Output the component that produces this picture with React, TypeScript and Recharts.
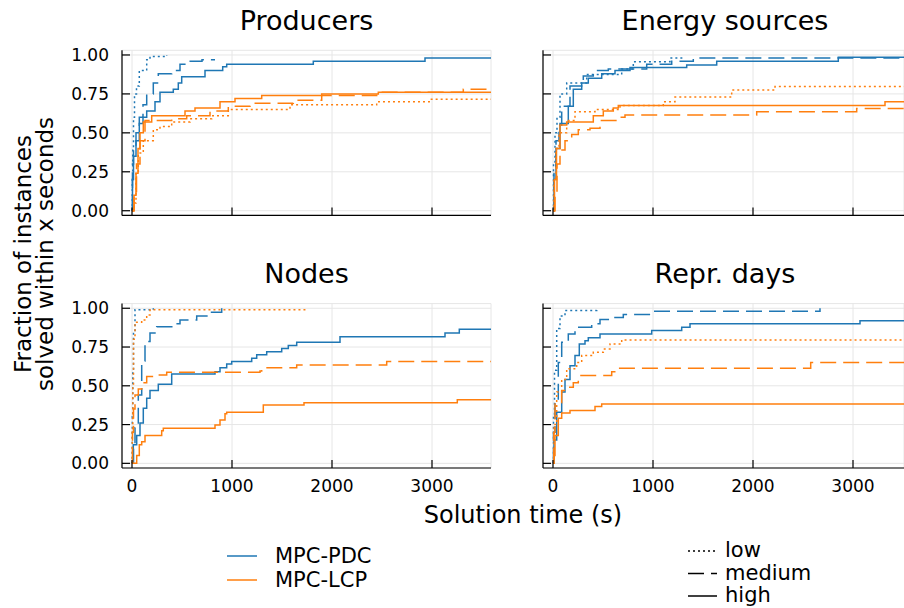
import { LineChart, Line, XAxis, YAxis, CartesianGrid } from "recharts"

type Pt = [number, number]

// panel titles, tick values, legend entries
const panelTitles = ["Producers", "Energy sources", "Nodes", "Repr. days"]
const xTicks = [0, 1000, 2000, 3000]
const yTicks = [0, 0.25, 0.5, 0.75, 1]
const methods = ["MPC-PDC", "MPC-LCP"]
const levels = ["low", "medium", "high"]

// [solution time (s), fraction solved]
const prodPdcLow: Pt[] = [[0, 0], [3, 0.2], [8, 0.4], [15, 0.6], [25, 0.75], [45, 0.8], [73, 0.9], [147, 0.97], [180, 0.99], [347, 1.0]]
const prodPdcMed: Pt[] = [[0, 0], [5, 0.3], [15, 0.4], [40, 0.5], [73, 0.6], [110, 0.68], [147, 0.75], [213, 0.82], [263, 0.88], [397, 0.9], [480, 0.94], [563, 0.96], [700, 0.97], [830, 0.97]]
const prodPdcHigh: Pt[] = [[0, 0], [5, 0.2], [15, 0.35], [40, 0.45], [73, 0.56], [110, 0.6], [147, 0.64], [230, 0.7], [280, 0.76], [413, 0.78], [463, 0.82], [497, 0.86], [730, 0.9], [907, 0.925], [947, 0.94], [1813, 0.96], [2930, 0.98], [3600, 0.98]]
const prodLcpLow: Pt[] = [[0, 0], [20, 0.05], [40, 0.25], [63, 0.37], [113, 0.45], [213, 0.52], [280, 0.54], [397, 0.57], [580, 0.59], [797, 0.61], [963, 0.65], [1580, 0.68], [2447, 0.7], [2980, 0.715], [3600, 0.715]]
const prodLcpMed: Pt[] = [[0, 0], [20, 0.1], [45, 0.3], [80, 0.45], [130, 0.58], [397, 0.59], [547, 0.61], [780, 0.64], [963, 0.67], [1180, 0.69], [1613, 0.71], [1897, 0.74], [2447, 0.76], [3313, 0.78], [3600, 0.78]]
const prodLcpHigh: Pt[] = [[0, 0], [20, 0.1], [40, 0.24], [60, 0.4], [80, 0.5], [113, 0.57], [197, 0.61], [530, 0.64], [630, 0.66], [880, 0.7], [1030, 0.72], [1297, 0.74], [1897, 0.75], [2463, 0.76], [3600, 0.76]]

const enPdcLow: Pt[] = [[0, 0], [5, 0.3], [20, 0.5], [40, 0.6], [70, 0.75], [137, 0.82], [337, 0.875], [687, 0.91], [803, 0.957], [1170, 0.98], [1300, 0.98]]
const enPdcMed: Pt[] = [[0, 0], [10, 0.25], [30, 0.45], [60, 0.55], [87, 0.67], [170, 0.8], [303, 0.865], [403, 0.9], [553, 0.91], [937, 0.94], [1187, 0.96], [1403, 0.98], [3600, 0.98]]
const enPdcHigh: Pt[] = [[0, 0], [10, 0.2], [30, 0.4], [70, 0.56], [153, 0.67], [203, 0.78], [287, 0.82], [353, 0.85], [487, 0.88], [620, 0.9], [770, 0.92], [1337, 0.935], [1637, 0.96], [2853, 0.985], [3600, 0.985]]
const enLcpLow: Pt[] = [[0, 0], [10, 0.2], [30, 0.4], [60, 0.5], [137, 0.58], [220, 0.636], [420, 0.65], [670, 0.675], [1103, 0.7], [1220, 0.73], [1787, 0.775], [2220, 0.797], [3600, 0.797]]
const enLcpMed: Pt[] = [[0, 0], [20, 0.1], [40, 0.3], [70, 0.39], [120, 0.45], [187, 0.49], [253, 0.52], [370, 0.53], [470, 0.58], [670, 0.6], [720, 0.615], [2037, 0.636], [3037, 0.657], [3600, 0.657]]
const enLcpHigh: Pt[] = [[0, 0], [15, 0.2], [35, 0.4], [70, 0.55], [137, 0.57], [403, 0.61], [503, 0.64], [603, 0.66], [653, 0.675], [3320, 0.7], [3600, 0.7]]

const nodPdcLow: Pt[] = [[0, 0], [3, 0.3], [8, 0.6], [15, 0.85], [30, 0.99], [213, 1.0]]
const nodPdcMed: Pt[] = [[0, 0], [15, 0.1], [30, 0.23], [63, 0.44], [97, 0.66], [130, 0.785], [180, 0.84], [247, 0.88], [413, 0.9], [480, 0.925], [647, 0.95], [780, 0.975], [897, 1.0]]
const nodPdcHigh: Pt[] = [[0, 0], [13, 0.12], [47, 0.18], [80, 0.26], [113, 0.355], [147, 0.42], [180, 0.47], [263, 0.51], [397, 0.576], [830, 0.59], [880, 0.617], [947, 0.64], [997, 0.656], [1197, 0.677], [1247, 0.7], [1347, 0.72], [1497, 0.74], [1563, 0.76], [1647, 0.78], [2080, 0.817], [3130, 0.84], [3273, 0.865], [3600, 0.865]]
const nodLcpLow: Pt[] = [[0, 0], [3, 0.2], [8, 0.5], [15, 0.8], [30, 0.91], [97, 0.925], [147, 0.957], [180, 0.99], [1763, 0.99]]
const nodLcpMed: Pt[] = [[0, 0], [5, 0.2], [15, 0.35], [30, 0.44], [63, 0.48], [97, 0.52], [147, 0.56], [230, 0.57], [347, 0.587], [1280, 0.596], [1297, 0.617], [1647, 0.634], [2547, 0.656], [3600, 0.656]]
const nodLcpHigh: Pt[] = [[0, 0], [30, 0], [47, 0.05], [73, 0.12], [97, 0.14], [130, 0.18], [297, 0.21], [313, 0.226], [830, 0.247], [880, 0.28], [930, 0.32], [947, 0.33], [1313, 0.376], [1720, 0.39], [3253, 0.41], [3600, 0.41]]

const repPdcLow: Pt[] = [[0, 0], [5, 0.3], [15, 0.6], [37, 0.87], [70, 0.95], [120, 0.985], [437, 1.0]]
const repPdcMed: Pt[] = [[0, 0], [5, 0.2], [20, 0.4], [53, 0.65], [87, 0.78], [153, 0.834], [220, 0.877], [387, 0.9], [470, 0.927], [553, 0.94], [703, 0.96], [987, 0.98], [2670, 1.0]]
const repPdcHigh: Pt[] = [[0, 0], [10, 0.15], [37, 0.33], [87, 0.46], [120, 0.54], [170, 0.63], [220, 0.695], [263, 0.77], [320, 0.79], [353, 0.81], [470, 0.834], [987, 0.856], [1287, 0.877], [1370, 0.9], [3070, 0.92], [3600, 0.92]]
const repLcpLow: Pt[] = [[0, 0], [10, 0.25], [37, 0.46], [87, 0.54], [137, 0.61], [237, 0.65], [287, 0.695], [403, 0.716], [503, 0.737], [570, 0.77], [687, 0.796], [3600, 0.796]]
const repLcpMed: Pt[] = [[0, 0], [8, 0.2], [20, 0.39], [87, 0.47], [137, 0.49], [203, 0.52], [253, 0.566], [587, 0.59], [637, 0.613], [2577, 0.65], [3600, 0.65]]
const repLcpHigh: Pt[] = [[0, 0], [8, 0.05], [20, 0.18], [53, 0.29], [87, 0.325], [170, 0.34], [420, 0.366], [487, 0.383], [3600, 0.383]]

const COLORS = ["#1f77b4", "#ff7f0e"]
const DASH = ["2 3", "16 7", undefined]
const FONT = "DejaVu Sans, sans-serif"
const W = 904
const H = 608

// order: [pdc low, med, high, lcp low, med, high]
const panelSeries: Pt[][][] = [
  [prodPdcLow, prodPdcMed, prodPdcHigh, prodLcpLow, prodLcpMed, prodLcpHigh],
  [enPdcLow, enPdcMed, enPdcHigh, enLcpLow, enLcpMed, enLcpHigh],
  [nodPdcLow, nodPdcMed, nodPdcHigh, nodLcpLow, nodLcpMed, nodLcpHigh],
  [repPdcLow, repPdcMed, repPdcHigh, repLcpLow, repLcpMed, repLcpHigh],
]

interface Box { left: number; right: number; top: number; bottom: number; xMax: number }

const boxes: Box[] = [
  { left: 122, right: 491, top: 50.3, bottom: 215.4, xMax: 3590 },
  { left: 543, right: 904, top: 50.3, bottom: 215.4, xMax: 3510 },
  { left: 122, right: 491, top: 303.6, bottom: 468, xMax: 3590 },
  { left: 543, right: 904, top: 303.6, bottom: 468, xMax: 3510 },
]

function Panel({ idx }: { idx: number }) {
  const box = boxes[idx]
  const showX = idx >= 2
  const showY = idx % 2 === 0
  const axisH = 20
  return (
    <div style={{ position: "absolute", left: 0, top: 0 }}>
      <LineChart
        width={W}
        height={H}
        margin={{ top: box.top, right: W - box.right, bottom: H - box.bottom - axisH, left: 0 }}
      >
        <CartesianGrid stroke="#e6e6e6" strokeWidth={1} />
        <XAxis
          type="number"
          dataKey="t"
          domain={[-100, box.xMax]}
          allowDataOverflow
          ticks={xTicks}
          interval={0}
          height={axisH}
          tickSize={0}
          tickLine={false}
          axisLine={{ stroke: "#000", strokeWidth: 1.2 }}
          tick={(p: any) => (
            <g>
              <line x1={p.payload.coordinate} x2={p.payload.coordinate} y1={box.bottom} y2={box.bottom - 8} stroke="#000" strokeWidth={1.2} />
              {showX && (
                <text x={p.payload.coordinate} y={492} textAnchor="middle" fontSize={17} fontFamily={FONT} fill="#000">
                  {p.payload.value}
                </text>
              )}
            </g>
          )}
        />
        <YAxis
          type="number"
          domain={[-0.03, 1.03]}
          allowDataOverflow
          ticks={yTicks}
          interval={0}
          width={box.left}
          tickSize={0}
          tickLine={false}
          axisLine={{ stroke: "#000", strokeWidth: 1.2 }}
          tick={(p: any) => (
            <g>
              <line x1={box.left} x2={box.left + 8} y1={p.payload.coordinate} y2={p.payload.coordinate} stroke="#000" strokeWidth={1.2} />
              {showY && (
                <text x={box.left - 13} y={p.payload.coordinate} dy="0.36em" textAnchor="end" fontSize={17} fontFamily={FONT} fill="#000">
                  {Number(p.payload.value).toFixed(2)}
                </text>
              )}
            </g>
          )}
        />
        {panelSeries[idx].map((pts, i) => (
          <Line
            key={i}
            data={pts.map(([t, f]) => ({ t, f }))}
            dataKey="f"
            type="stepAfter"
            stroke={COLORS[Math.floor(i / 3)]}
            strokeWidth={1.5}
            strokeDasharray={DASH[i % 3]}
            dot={false}
            activeDot={false}
            isAnimationActive={false}
          />
        ))}
      </LineChart>
    </div>
  )
}

export default function App() {
  const titlePos = [
    { x: 306.5, y: 30 },
    { x: 725, y: 30 },
    { x: 306.5, y: 283.3 },
    { x: 725, y: 283.3 },
  ]
  return (
    <div style={{ position: "absolute", left: 0, top: 0, width: W, height: H, background: "#fff" }}>
      {[0, 1, 2, 3].map((i) => (
        <Panel key={i} idx={i} />
      ))}
      <svg width={W} height={H} style={{ position: "absolute", left: 0, top: 0 }} fontFamily={FONT}>
        {panelTitles.map((t, i) => (
          <text key={t} x={titlePos[i].x} y={titlePos[i].y} textAnchor="middle" fontSize={27} fill="#000">
            {t}
          </text>
        ))}
        <text x={523} y={523} textAnchor="middle" fontSize={24} fill="#000">
          Solution time (s)
        </text>
        <text transform="translate(31,254) rotate(-90)" textAnchor="middle" fontSize={23} fill="#000">
          Fraction of instances
        </text>
        <text transform="translate(53,254) rotate(-90)" textAnchor="middle" fontSize={23} fill="#000">
          solved within x seconds
        </text>
        {methods.map((m, i) => (
          <g key={m}>
            <line x1={227} x2={257} y1={556 + i * 24} y2={556 + i * 24} stroke={COLORS[i]} strokeWidth={1.5} />
            <text x={275} y={563 + i * 24} fontSize={21} fill="#000">
              {m}
            </text>
          </g>
        ))}
        {levels.map((l, i) => (
          <g key={l}>
            <line x1={688} x2={717} y1={551 + i * 22.5} y2={551 + i * 22.5} stroke="#000" strokeWidth={1.5} strokeDasharray={DASH[i]} />
            <text x={725} y={557 + i * 22.5} fontSize={21} fill="#000">
              {l}
            </text>
          </g>
        ))}
      </svg>
    </div>
  )
}
